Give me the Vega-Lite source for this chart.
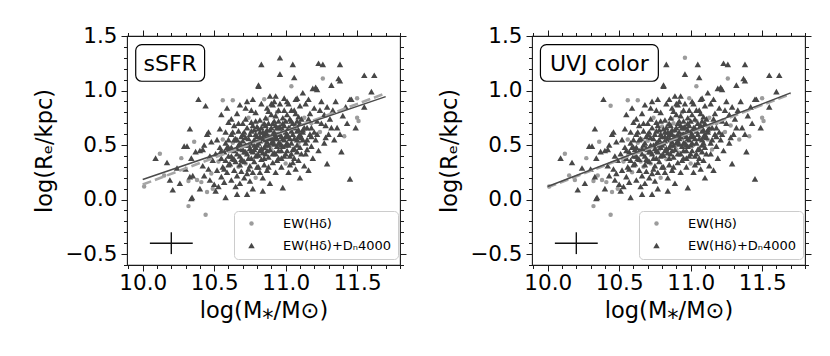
{
"$schema": "https://vega.github.io/schema/vega-lite/v6.json",
"background": "white",
"padding": {"left": 33, "top": 24, "right": 5, "bottom": 5},
"spacing": 30,
"config": {
  "font": "DejaVu Sans",
  "view": {"stroke": "#1a1a1a", "strokeWidth": 1.1},
  "axis": {"grid": false, "domain": false, "tickColor": "#1a1a1a", "tickWidth": 1, "labelColor": "#000", "titleColor": "#000", "labelFont": "DejaVu Sans", "titleFont": "DejaVu Sans", "labelFontSize": 21.5, "titleFontSize": 22.5, "titleFontWeight": "normal"},
  "legend": {"labelFont": "DejaVu Sans", "labelColor": "#000"}
},
"datasets": {
"fits": [
 {"p":"s","k":"d","x":10.0,"y":0.138},{"p":"s","k":"d","x":11.7,"y":0.975},
 {"p":"s","k":"l","x":10.0,"y":0.184},{"p":"s","k":"l","x":11.7,"y":0.944},
 {"p":"u","k":"d","x":10.0,"y":0.112},{"p":"u","k":"d","x":11.7,"y":0.968},
 {"p":"u","k":"l","x":10.0,"y":0.12},{"p":"u","k":"l","x":11.7,"y":0.978}
],
"pts": [
{"x":10.01,"y":0.12,"s":"c","u":"c"},{"x":10.09,"y":0.38,"s":"t","u":"t"},{"x":10.12,"y":0.42,"s":"c","u":"c"},{"x":10.17,"y":0.34,"s":"t","u":"t"},{"x":10.15,"y":0.22,"s":"c","u":"c"},{"x":10.19,"y":0.18,"s":"t","u":"c"},{"x":10.21,"y":0.09,"s":"t","u":"t"},
{"x":10.24,"y":0.29,"s":"t","u":"t"},{"x":10.27,"y":0.38,"s":"c","u":"c"},{"x":10.29,"y":0.49,"s":"t","u":"t"},{"x":10.31,"y":0.49,"s":"t","u":"t"},{"x":10.32,"y":-0.06,"s":"c","u":"c"},{"x":10.33,"y":0.65,"s":"t","u":"t"},{"x":10.33,"y":0.21,"s":"t","u":"t"},{"x":10.34,"y":0.01,"s":"t","u":"t"},{"x":10.345,"y":0.02,"s":"t","u":"t"},{"x":10.32,"y":0.17,"s":"c","u":"c"},{"x":10.30,"y":0.28,"s":"t","u":"t"},{"x":10.35,"y":0.22,"s":"t","u":"c"},{"x":10.26,"y":0.15,"s":"t","u":"t"},{"x":10.34,"y":0.38,"s":"t","u":"t"},{"x":10.36,"y":0.53,"s":"c","u":"c"},
{"x":10.39,"y":0.92,"s":"t","u":"t"},{"x":10.37,"y":0.44,"s":"t","u":"t"},{"x":10.38,"y":0.18,"s":"c","u":"c"},{"x":10.40,"y":0.45,"s":"t","u":"t"},{"x":10.40,"y":0.10,"s":"t","u":"t"},{"x":10.41,"y":0.16,"s":"c","u":"c"},{"x":10.42,"y":0.31,"s":"t","u":"t"},{"x":10.43,"y":0.22,"s":"t","u":"t"},{"x":10.44,"y":-0.14,"s":"c","u":"c"},{"x":10.45,"y":0.07,"s":"c","u":"c"},{"x":10.45,"y":0.60,"s":"t","u":"t"},{"x":10.46,"y":0.62,"s":"t","u":"t"},{"x":10.46,"y":0.28,"s":"t","u":"t"},{"x":10.47,"y":0.40,"s":"t","u":"t"},{"x":10.47,"y":0.18,"s":"t","u":"t"},{"x":10.48,"y":0.53,"s":"t","u":"t"},{"x":10.48,"y":0.24,"s":"c","u":"t"},{"x":10.49,"y":0.36,"s":"t","u":"t"},{"x":10.43,"y":0.50,"s":"t","u":"t"},{"x":10.44,"y":0.86,"s":"t","u":"c"},{"x":10.50,"y":0.14,"s":"t","u":"t"},{"x":10.49,"y":0.10,"s":"c","u":"c"},{"x":10.42,"y":0.46,"s":"t","u":"t"},
{"x":10.51,"y":0.42,"s":"t","u":"t"},{"x":10.52,"y":0.55,"s":"t","u":"t"},{"x":10.52,"y":0.27,"s":"t","u":"t"},{"x":10.53,"y":0.12,"s":"t","u":"t"},{"x":10.53,"y":0.35,"s":"c","u":"c"},{"x":10.54,"y":0.48,"s":"t","u":"t"},{"x":10.54,"y":0.65,"s":"t","u":"t"},{"x":10.55,"y":0.21,"s":"t","u":"t"},{"x":10.55,"y":0.38,"s":"t","u":"t"},{"x":10.56,"y":0.55,"s":"c","u":"c"},{"x":10.56,"y":0.30,"s":"t","u":"t"},{"x":10.56,"y":0.91,"s":"c","u":"c"},{"x":10.57,"y":0.44,"s":"t","u":"t"},{"x":10.57,"y":0.16,"s":"t","u":"t"},{"x":10.58,"y":0.62,"s":"t","u":"t"},{"x":10.58,"y":0.36,"s":"t","u":"t"},{"x":10.58,"y":0.02,"s":"t","u":"t"},{"x":10.59,"y":0.48,"s":"t","u":"t"},{"x":10.59,"y":0.25,"s":"t","u":"c"},{"x":10.60,"y":0.71,"s":"t","u":"t"},{"x":10.60,"y":0.40,"s":"t","u":"t"},{"x":10.60,"y":0.55,"s":"t","u":"t"},{"x":10.51,"y":0.08,"s":"t","u":"t"},{"x":10.55,"y":0.78,"s":"t","u":"t"},{"x":10.59,"y":0.84,"s":"t","u":"t"},
{"x":10.61,"y":0.33,"s":"t","u":"t"},{"x":10.61,"y":0.46,"s":"t","u":"t"},{"x":10.62,"y":0.18,"s":"t","u":"t"},{"x":10.62,"y":0.60,"s":"t","u":"t"},{"x":10.63,"y":0.91,"s":"c","u":"c"},{"x":10.63,"y":0.38,"s":"t","u":"t"},{"x":10.63,"y":0.52,"s":"c","u":"c"},{"x":10.64,"y":0.27,"s":"t","u":"t"},{"x":10.64,"y":0.68,"s":"t","u":"t"},{"x":10.64,"y":0.45,"s":"t","u":"t"},{"x":10.65,"y":0.12,"s":"t","u":"t"},{"x":10.65,"y":0.56,"s":"t","u":"t"},{"x":10.65,"y":0.35,"s":"t","u":"c"},{"x":10.66,"y":0.79,"s":"t","u":"t"},{"x":10.66,"y":0.42,"s":"t","u":"t"},{"x":10.66,"y":0.22,"s":"t","u":"t"},{"x":10.67,"y":0.63,"s":"t","u":"t"},{"x":10.67,"y":0.50,"s":"t","u":"t"},{"x":10.67,"y":0.30,"s":"c","u":"c"},{"x":10.68,"y":0.87,"s":"t","u":"t"},{"x":10.68,"y":0.40,"s":"t","u":"t"},{"x":10.68,"y":0.15,"s":"t","u":"t"},{"x":10.69,"y":0.58,"s":"t","u":"t"},{"x":10.69,"y":0.47,"s":"t","u":"t"},{"x":10.69,"y":0.26,"s":"t","u":"t"},{"x":10.70,"y":0.70,"s":"t","u":"t"},{"x":10.70,"y":0.36,"s":"t","u":"t"},{"x":10.70,"y":0.54,"s":"t","u":"c"},{"x":10.62,"y":0.74,"s":"t","u":"t"},{"x":10.66,"y":0.05,"s":"t","u":"t"},
{"x":10.71,"y":0.44,"s":"t","u":"t"},{"x":10.71,"y":0.62,"s":"t","u":"t"},{"x":10.71,"y":0.20,"s":"t","u":"t"},{"x":10.72,"y":0.84,"s":"t","u":"t"},{"x":10.72,"y":0.50,"s":"t","u":"t"},{"x":10.72,"y":0.33,"s":"c","u":"c"},{"x":10.73,"y":0.05,"s":"t","u":"t"},{"x":10.73,"y":0.66,"s":"t","u":"t"},{"x":10.73,"y":0.42,"s":"t","u":"t"},{"x":10.74,"y":0.56,"s":"t","u":"t"},{"x":10.74,"y":0.28,"s":"t","u":"t"},{"x":10.74,"y":0.75,"s":"c","u":"c"},{"x":10.75,"y":0.47,"s":"t","u":"t"},{"x":10.75,"y":0.60,"s":"t","u":"t"},{"x":10.75,"y":0.17,"s":"t","u":"t"},{"x":10.76,"y":0.38,"s":"t","u":"t"},{"x":10.76,"y":0.71,"s":"t","u":"t"},{"x":10.76,"y":0.52,"s":"c","u":"t"},{"x":10.77,"y":0.92,"s":"t","u":"t"},{"x":10.77,"y":0.44,"s":"t","u":"t"},{"x":10.77,"y":0.25,"s":"t","u":"t"},{"x":10.78,"y":0.64,"s":"t","u":"t"},{"x":10.78,"y":0.55,"s":"t","u":"t"},{"x":10.78,"y":0.35,"s":"t","u":"t"},{"x":10.79,"y":0.80,"s":"t","u":"t"},{"x":10.79,"y":0.48,"s":"t","u":"t"},{"x":10.79,"y":0.20,"s":"c","u":"c"},{"x":10.80,"y":0.58,"s":"t","u":"t"},{"x":10.80,"y":0.41,"s":"t","u":"t"},{"x":10.80,"y":0.67,"s":"t","u":"c"},{"x":10.73,"y":0.90,"s":"t","u":"t"},{"x":10.77,"y":0.10,"s":"t","u":"t"},
{"x":10.81,"y":1.05,"s":"t","u":"t"},{"x":10.81,"y":1.04,"s":"t","u":"t"},{"x":10.81,"y":0.52,"s":"t","u":"t"},{"x":10.81,"y":0.30,"s":"t","u":"t"},{"x":10.82,"y":0.73,"s":"t","u":"t"},{"x":10.82,"y":0.45,"s":"t","u":"t"},{"x":10.82,"y":0.62,"s":"t","u":"t"},{"x":10.83,"y":1.24,"s":"t","u":"t"},{"x":10.83,"y":0.88,"s":"t","u":"t"},{"x":10.83,"y":0.37,"s":"t","u":"c"},{"x":10.84,"y":0.56,"s":"t","u":"t"},{"x":10.84,"y":0.20,"s":"t","u":"t"},{"x":10.84,"y":0.68,"s":"c","u":"c"},{"x":10.85,"y":0.48,"s":"t","u":"t"},{"x":10.85,"y":0.92,"s":"c","u":"t"},{"x":10.85,"y":0.60,"s":"t","u":"t"},{"x":10.85,"y":0.32,"s":"t","u":"t"},{"x":10.86,"y":0.75,"s":"t","u":"t"},{"x":10.86,"y":0.42,"s":"t","u":"t"},{"x":10.86,"y":0.55,"s":"t","u":"t"},{"x":10.87,"y":0.84,"s":"t","u":"t"},{"x":10.87,"y":0.64,"s":"t","u":"t"},{"x":10.87,"y":0.27,"s":"t","u":"t"},{"x":10.88,"y":0.50,"s":"t","u":"t"},{"x":10.88,"y":0.70,"s":"t","u":"c"},{"x":10.88,"y":0.39,"s":"t","u":"t"},{"x":10.89,"y":0.95,"s":"t","u":"t"},{"x":10.89,"y":0.58,"s":"t","u":"t"},{"x":10.89,"y":0.15,"s":"t","u":"t"},{"x":10.90,"y":0.66,"s":"t","u":"t"},{"x":10.90,"y":0.46,"s":"c","u":"c"},{"x":10.90,"y":0.78,"s":"t","u":"t"},{"x":10.84,"y":0.08,"s":"t","u":"t"},{"x":10.87,"y":0.45,"s":"t","u":"t"},
{"x":10.91,"y":0.54,"s":"t","u":"t"},{"x":10.91,"y":0.34,"s":"t","u":"t"},{"x":10.91,"y":0.87,"s":"t","u":"t"},{"x":10.92,"y":0.62,"s":"t","u":"t"},{"x":10.92,"y":0.72,"s":"t","u":"t"},{"x":10.92,"y":0.43,"s":"t","u":"c"},{"x":10.93,"y":0.95,"s":"t","u":"t"},{"x":10.93,"y":0.58,"s":"t","u":"t"},{"x":10.93,"y":0.25,"s":"t","u":"t"},{"x":10.94,"y":0.66,"s":"t","u":"t"},{"x":10.94,"y":0.49,"s":"t","u":"t"},{"x":10.94,"y":0.80,"s":"c","u":"c"},{"x":10.95,"y":0.38,"s":"t","u":"t"},{"x":10.95,"y":0.60,"s":"t","u":"t"},{"x":10.95,"y":0.72,"s":"t","u":"t"},{"x":10.96,"y":1.30,"s":"t","u":"c"},{"x":10.96,"y":0.52,"s":"t","u":"t"},{"x":10.96,"y":0.88,"s":"t","u":"t"},{"x":10.97,"y":0.45,"s":"t","u":"t"},{"x":10.97,"y":0.65,"s":"c","u":"c"},{"x":10.97,"y":0.30,"s":"t","u":"t"},{"x":10.98,"y":0.75,"s":"t","u":"t"},{"x":10.98,"y":0.11,"s":"t","u":"t"},{"x":10.98,"y":0.56,"s":"t","u":"t"},{"x":10.99,"y":0.40,"s":"t","u":"t"},{"x":10.99,"y":0.68,"s":"t","u":"t"},{"x":10.99,"y":0.93,"s":"t","u":"c"},{"x":11.00,"y":0.50,"s":"t","u":"t"},{"x":11.00,"y":0.62,"s":"t","u":"t"},{"x":11.00,"y":0.33,"s":"c","u":"c"},{"x":10.96,"y":1.15,"s":"t","u":"t"},{"x":10.93,"y":0.42,"s":"t","u":"t"},
{"x":11.01,"y":0.78,"s":"t","u":"t"},{"x":11.01,"y":0.45,"s":"t","u":"t"},{"x":11.02,"y":0.58,"s":"t","u":"t"},{"x":11.02,"y":0.25,"s":"t","u":"t"},{"x":11.02,"y":0.88,"s":"t","u":"t"},{"x":11.03,"y":0.66,"s":"t","u":"t"},{"x":11.03,"y":0.40,"s":"t","u":"t"},{"x":11.04,"y":1.04,"s":"c","u":"c"},{"x":11.04,"y":0.52,"s":"t","u":"t"},{"x":11.04,"y":0.72,"s":"t","u":"c"},{"x":11.05,"y":1.24,"s":"t","u":"t"},{"x":11.05,"y":0.34,"s":"t","u":"t"},{"x":11.05,"y":0.60,"s":"t","u":"t"},{"x":11.06,"y":0.82,"s":"t","u":"t"},{"x":11.06,"y":0.47,"s":"t","u":"t"},{"x":11.06,"y":1.12,"s":"t","u":"t"},{"x":11.07,"y":0.56,"s":"c","u":"c"},{"x":11.07,"y":0.68,"s":"t","u":"t"},{"x":11.07,"y":0.28,"s":"t","u":"t"},{"x":11.08,"y":0.93,"s":"t","u":"t"},{"x":11.08,"y":0.44,"s":"t","u":"t"},{"x":11.08,"y":0.63,"s":"t","u":"t"},{"x":11.09,"y":0.76,"s":"t","u":"t"},{"x":11.09,"y":0.36,"s":"t","u":"t"},{"x":11.09,"y":0.52,"s":"c","u":"t"},{"x":11.10,"y":0.70,"s":"t","u":"t"},{"x":11.10,"y":0.20,"s":"t","u":"t"},{"x":11.10,"y":0.86,"s":"t","u":"t"},
{"x":11.11,"y":0.57,"s":"t","u":"t"},{"x":11.11,"y":0.42,"s":"t","u":"t"},{"x":11.12,"y":0.98,"s":"t","u":"t"},{"x":11.12,"y":0.64,"s":"t","u":"t"},{"x":11.13,"y":0.31,"s":"t","u":"t"},{"x":11.13,"y":0.75,"s":"c","u":"c"},{"x":11.14,"y":0.52,"s":"t","u":"t"},{"x":11.14,"y":0.88,"s":"t","u":"t"},{"x":11.15,"y":0.66,"s":"t","u":"t"},{"x":11.15,"y":0.46,"s":"t","u":"c"},{"x":11.16,"y":0.92,"s":"t","u":"t"},{"x":11.16,"y":0.27,"s":"t","u":"t"},{"x":11.17,"y":0.60,"s":"t","u":"t"},{"x":11.17,"y":0.79,"s":"t","u":"t"},{"x":11.18,"y":0.49,"s":"t","u":"t"},{"x":11.18,"y":0.70,"s":"c","u":"c"},{"x":11.19,"y":1.02,"s":"t","u":"t"},{"x":11.19,"y":0.38,"s":"t","u":"t"},{"x":11.20,"y":0.62,"s":"t","u":"t"},{"x":11.20,"y":0.84,"s":"t","u":"t"},
{"x":11.21,"y":1.03,"s":"t","u":"t"},{"x":11.21,"y":0.55,"s":"t","u":"t"},{"x":11.22,"y":0.72,"s":"t","u":"t"},{"x":11.22,"y":1.01,"s":"t","u":"t"},{"x":11.23,"y":1.25,"s":"t","u":"t"},{"x":11.23,"y":0.45,"s":"t","u":"t"},{"x":11.24,"y":0.82,"s":"t","u":"t"},{"x":11.24,"y":0.62,"s":"c","u":"c"},{"x":11.25,"y":0.90,"s":"t","u":"t"},{"x":11.26,"y":1.24,"s":"t","u":"t"},{"x":11.26,"y":1.11,"s":"c","u":"c"},{"x":11.27,"y":0.78,"s":"t","u":"t"},{"x":11.27,"y":0.52,"s":"t","u":"t"},{"x":11.28,"y":0.68,"s":"t","u":"c"},{"x":11.29,"y":0.33,"s":"t","u":"t"},{"x":11.29,"y":0.85,"s":"t","u":"t"},{"x":11.30,"y":0.60,"s":"t","u":"t"},
{"x":11.31,"y":0.74,"s":"t","u":"t"},{"x":11.32,"y":1.05,"s":"t","u":"t"},{"x":11.33,"y":0.82,"s":"t","u":"t"},{"x":11.34,"y":0.55,"s":"t","u":"c"},{"x":11.35,"y":0.90,"s":"t","u":"t"},{"x":11.36,"y":0.66,"s":"t","u":"t"},{"x":11.37,"y":1.11,"s":"t","u":"t"},{"x":11.38,"y":1.09,"s":"t","u":"t"},{"x":11.38,"y":1.24,"s":"t","u":"t"},{"x":11.38,"y":0.60,"s":"t","u":"t"},{"x":11.39,"y":0.44,"s":"t","u":"t"},{"x":11.40,"y":0.77,"s":"t","u":"t"},{"x":11.41,"y":0.58,"s":"c","u":"c"},{"x":11.42,"y":0.85,"s":"t","u":"t"},{"x":11.43,"y":0.70,"s":"t","u":"t"},{"x":11.45,"y":0.19,"s":"t","u":"t"},{"x":11.45,"y":0.92,"s":"t","u":"t"},
{"x":11.46,"y":0.92,"s":"t","u":"t"},{"x":11.49,"y":0.66,"s":"t","u":"t"},{"x":11.50,"y":0.75,"s":"c","u":"c"},{"x":11.51,"y":0.72,"s":"c","u":"c"},{"x":11.50,"y":0.93,"s":"c","u":"c"},{"x":11.55,"y":1.14,"s":"t","u":"t"},{"x":11.60,"y":0.99,"s":"t","u":"t"},{"x":11.62,"y":1.14,"s":"t","u":"t"},{"x":11.55,"y":0.85,"s":"t","u":"t"},
{"x":10.72,"y":0.57,"s":"t","u":"t"},{"x":10.74,"y":0.38,"s":"t","u":"t"},{"x":10.76,"y":0.63,"s":"t","u":"t"},{"x":10.78,"y":0.46,"s":"t","u":"c"},{"x":10.79,"y":0.72,"s":"t","u":"t"},{"x":10.81,"y":0.41,"s":"t","u":"t"},{"x":10.82,"y":0.54,"s":"t","u":"t"},{"x":10.83,"y":0.66,"s":"t","u":"t"},{"x":10.84,"y":0.43,"s":"t","u":"t"},{"x":10.86,"y":0.62,"s":"t","u":"t"},{"x":10.87,"y":0.53,"s":"t","u":"t"},{"x":10.88,"y":0.81,"s":"t","u":"t"},{"x":10.89,"y":0.46,"s":"t","u":"t"},{"x":10.90,"y":0.57,"s":"t","u":"t"},{"x":10.91,"y":0.70,"s":"t","u":"t"},{"x":10.92,"y":0.51,"s":"t","u":"t"},{"x":10.93,"y":0.77,"s":"t","u":"t"},{"x":10.94,"y":0.56,"s":"t","u":"c"},{"x":10.95,"y":0.45,"s":"t","u":"t"},{"x":10.96,"y":0.67,"s":"t","u":"t"},{"x":10.97,"y":0.58,"s":"t","u":"t"},{"x":10.98,"y":0.49,"s":"t","u":"t"},{"x":10.99,"y":0.82,"s":"t","u":"t"},{"x":11.00,"y":0.72,"s":"t","u":"t"},{"x":11.01,"y":0.60,"s":"t","u":"t"},{"x":11.02,"y":0.50,"s":"t","u":"c"},{"x":11.03,"y":0.74,"s":"t","u":"t"},{"x":11.04,"y":0.63,"s":"t","u":"t"},{"x":11.05,"y":0.46,"s":"t","u":"t"},{"x":11.06,"y":0.66,"s":"t","u":"t"},{"x":11.07,"y":0.79,"s":"t","u":"t"},{"x":11.08,"y":0.55,"s":"t","u":"t"},{"x":11.09,"y":0.64,"s":"t","u":"t"},{"x":11.10,"y":0.48,"s":"t","u":"t"},{"x":11.11,"y":0.74,"s":"t","u":"t"},{"x":11.12,"y":0.55,"s":"t","u":"c"},{"x":11.13,"y":0.66,"s":"t","u":"t"},{"x":11.14,"y":0.42,"s":"t","u":"t"},{"x":11.16,"y":0.74,"s":"t","u":"t"},{"x":11.18,"y":0.58,"s":"t","u":"t"},
{"x":10.62,"y":0.48,"s":"t","u":"t"},{"x":10.64,"y":0.37,"s":"t","u":"t"},{"x":10.66,"y":0.55,"s":"t","u":"c"},{"x":10.68,"y":0.32,"s":"t","u":"t"},{"x":10.70,"y":0.46,"s":"t","u":"t"},{"x":10.71,"y":0.35,"s":"t","u":"t"},{"x":10.73,"y":0.24,"s":"t","u":"t"},{"x":10.75,"y":0.31,"s":"t","u":"t"},{"x":10.77,"y":0.52,"s":"t","u":"t"},{"x":10.80,"y":0.30,"s":"t","u":"t"},{"x":10.82,"y":0.25,"s":"t","u":"t"},{"x":10.85,"y":0.38,"s":"t","u":"t"},{"x":10.88,"y":0.30,"s":"t","u":"t"},{"x":10.91,"y":0.42,"s":"t","u":"t"},{"x":10.94,"y":0.36,"s":"t","u":"t"},{"x":10.97,"y":0.38,"s":"t","u":"t"},{"x":11.00,"y":0.42,"s":"t","u":"t"},{"x":11.03,"y":0.32,"s":"t","u":"t"},{"x":11.06,"y":0.38,"s":"t","u":"t"},{"x":11.08,"y":0.72,"s":"t","u":"t"},
{"x":10.85,"y":0.70,"s":"t","u":"t"},{"x":10.87,"y":0.74,"s":"c","u":"c"},{"x":10.90,"y":0.88,"s":"t","u":"t"},{"x":10.92,"y":0.90,"s":"t","u":"t"},{"x":10.95,"y":0.82,"s":"t","u":"t"},{"x":10.98,"y":0.64,"s":"t","u":"t"},{"x":11.01,"y":0.90,"s":"t","u":"t"},{"x":11.04,"y":0.82,"s":"t","u":"t"},{"x":11.07,"y":0.92,"s":"t","u":"t"},{"x":11.10,"y":0.60,"s":"t","u":"t"},
{"x":10.55,"y":0.45,"s":"t","u":"t"},{"x":10.57,"y":0.28,"s":"t","u":"t"},{"x":10.60,"y":0.32,"s":"t","u":"t"},{"x":10.58,"y":0.52,"s":"t","u":"t"},{"x":10.63,"y":0.62,"s":"t","u":"t"},{"x":10.67,"y":0.70,"s":"t","u":"t"},{"x":10.69,"y":0.37,"s":"t","u":"t"},{"x":10.72,"y":0.74,"s":"t","u":"t"},{"x":10.76,"y":0.82,"s":"t","u":"t"},{"x":10.79,"y":0.60,"s":"t","u":"t"},
{"x":10.80,"y":0.50,"s":"t","u":"t"},{"x":10.82,"y":0.58,"s":"t","u":"t"},{"x":10.83,"y":0.47,"s":"t","u":"t"},{"x":10.84,"y":0.62,"s":"t","u":"t"},{"x":10.86,"y":0.50,"s":"t","u":"t"},{"x":10.86,"y":0.68,"s":"t","u":"t"},{"x":10.88,"y":0.56,"s":"t","u":"t"},{"x":10.89,"y":0.64,"s":"t","u":"t"},{"x":10.90,"y":0.52,"s":"t","u":"t"},{"x":10.91,"y":0.60,"s":"t","u":"t"},{"x":10.92,"y":0.56,"s":"t","u":"t"},{"x":10.93,"y":0.68,"s":"t","u":"t"},{"x":10.94,"y":0.60,"s":"t","u":"t"},{"x":10.95,"y":0.52,"s":"t","u":"t"},{"x":10.96,"y":0.60,"s":"t","u":"t"},{"x":10.97,"y":0.50,"s":"t","u":"t"},{"x":10.98,"y":0.70,"s":"t","u":"t"},{"x":10.99,"y":0.55,"s":"t","u":"t"},{"x":11.00,"y":0.58,"s":"t","u":"t"},{"x":11.01,"y":0.52,"s":"t","u":"t"},{"x":11.02,"y":0.66,"s":"t","u":"t"},{"x":11.03,"y":0.56,"s":"t","u":"t"},{"x":11.05,"y":0.70,"s":"t","u":"t"},{"x":11.06,"y":0.56,"s":"t","u":"t"},{"x":11.08,"y":0.50,"s":"t","u":"t"},{"x":10.76,"y":0.45,"s":"t","u":"t"},{"x":10.78,"y":0.50,"s":"t","u":"t"},{"x":10.74,"y":0.50,"s":"t","u":"t"},{"x":10.72,"y":0.44,"s":"t","u":"t"},{"x":10.70,"y":0.60,"s":"t","u":"t"},{"x":10.68,"y":0.52,"s":"t","u":"t"},{"x":10.66,"y":0.47,"s":"t","u":"t"},{"x":10.64,"y":0.55,"s":"t","u":"t"},{"x":10.62,"y":0.40,"s":"t","u":"t"},{"x":10.60,"y":0.48,"s":"t","u":"t"},{"x":10.85,"y":0.56,"s":"t","u":"t"},{"x":10.87,"y":0.60,"s":"t","u":"t"},{"x":10.81,"y":0.65,"s":"t","u":"t"},{"x":10.79,"y":0.40,"s":"t","u":"t"},{"x":10.77,"y":0.68,"s":"t","u":"t"},{"x":10.95,"y":0.66,"s":"t","u":"t"},{"x":11.04,"y":0.42,"s":"t","u":"t"},{"x":11.09,"y":0.58,"s":"t","u":"t"},{"x":11.12,"y":0.62,"s":"t","u":"t"},{"x":11.15,"y":0.55,"s":"t","u":"t"},{"x":11.18,"y":0.66,"s":"t","u":"t"},{"x":11.22,"y":0.60,"s":"t","u":"t"},{"x":11.25,"y":0.70,"s":"t","u":"t"},{"x":11.28,"y":0.57,"s":"t","u":"t"},{"x":11.32,"y":0.66,"s":"t","u":"t"}
]
},
"hconcat": [
{
 "width": 273, "height": 229,
 "data": {"name": "pts"},
 "resolve": {"axis": {"x": "independent", "y": "independent"}},
 "layer": [
  {
   "transform": [{"filter": "datum.s === 'c'"}],
   "mark": {"type": "point", "filled": true, "opacity": 1},
   "encoding": {
    "x": {"field": "x", "type": "quantitative", "scale": {"domain": [9.89, 11.8], "nice": false, "zero": false}, "axis": {"orient": "bottom", "values": [10, 10.5, 11, 11.5], "format": ".1f", "tickSize": 6, "labelPadding": 1, "title": "log(M⁎/M⊙)", "titlePadding": 6}},
    "y": {"field": "y", "type": "quantitative", "scale": {"domain": [-0.6, 1.5], "nice": false, "zero": false}, "axis": {"orient": "left", "values": [-0.5, 0, 0.5, 1, 1.5], "format": ".1f", "tickSize": 6, "labelPadding": 4, "title": "log(Rₑ/kpc)", "titlePadding": 8}},
    "color": {"field": "s", "type": "nominal", "scale": {"domain": ["c", "t"], "range": ["#9c9c9c", "#474747"]}, "legend": {"title": null, "orient": "none", "legendX": 107, "legendY": 175, "labelExpr": "datum.value === 'c' ? 'EW(Hδ)' : 'EW(Hδ)+Dₙ4000'", "fillColor": "rgba(255,255,255,0.85)", "strokeColor": "#cccccc", "cornerRadius": 4, "padding": 6, "labelFontSize": 13, "rowPadding": 8, "symbolOffset": 5, "labelOffset": 25, "labelLimit": 200}},
    "shape": {"field": "s", "type": "nominal", "scale": {"domain": ["c", "t"], "range": ["circle", "triangle-up"]}, "legend": {"title": null, "orient": "none", "legendX": 107, "legendY": 175, "labelExpr": "datum.value === 'c' ? 'EW(Hδ)' : 'EW(Hδ)+Dₙ4000'", "fillColor": "rgba(255,255,255,0.85)", "strokeColor": "#cccccc", "cornerRadius": 4, "padding": 6, "labelFontSize": 13, "rowPadding": 8, "symbolOffset": 5, "labelOffset": 25, "labelLimit": 200}},
    "size": {"field": "s", "type": "nominal", "scale": {"domain": ["c", "t"], "range": [20, 42]}, "legend": {"title": null, "orient": "none", "legendX": 107, "legendY": 175, "labelExpr": "datum.value === 'c' ? 'EW(Hδ)' : 'EW(Hδ)+Dₙ4000'", "fillColor": "rgba(255,255,255,0.85)", "strokeColor": "#cccccc", "cornerRadius": 4, "padding": 6, "labelFontSize": 13, "rowPadding": 8, "symbolOffset": 5, "labelOffset": 25, "labelLimit": 200}}
   }
  },
  {
   "transform": [{"filter": "datum.s === 't'"}],
   "mark": {"type": "point", "filled": true, "opacity": 1},
   "encoding": {
    "x": {"field": "x", "type": "quantitative", "scale": {"domain": [9.89, 11.8], "nice": false, "zero": false}, "axis": {"orient": "bottom", "values": [9.9, 10.1, 10.2, 10.3, 10.4, 10.6, 10.7, 10.8, 10.9, 11.1, 11.2, 11.3, 11.4, 11.6, 11.7, 11.8], "labels": false, "tickSize": 3.5, "title": null}},
    "y": {"field": "y", "type": "quantitative", "scale": {"domain": [-0.6, 1.5], "nice": false, "zero": false}, "axis": {"orient": "left", "values": [-0.6, -0.4, -0.3, -0.2, -0.1, 0.1, 0.2, 0.3, 0.4, 0.6, 0.7, 0.8, 0.9, 1.1, 1.2, 1.3, 1.4], "labels": false, "tickSize": 3.5, "title": null}},
    "color": {"field": "s", "type": "nominal", "scale": {"domain": ["c", "t"], "range": ["#9c9c9c", "#474747"]}, "legend": {"title": null, "orient": "none", "legendX": 107, "legendY": 175, "labelExpr": "datum.value === 'c' ? 'EW(Hδ)' : 'EW(Hδ)+Dₙ4000'", "fillColor": "rgba(255,255,255,0.85)", "strokeColor": "#cccccc", "cornerRadius": 4, "padding": 6, "labelFontSize": 13, "rowPadding": 8, "symbolOffset": 5, "labelOffset": 25, "labelLimit": 200}},
    "shape": {"field": "s", "type": "nominal", "scale": {"domain": ["c", "t"], "range": ["circle", "triangle-up"]}, "legend": {"title": null, "orient": "none", "legendX": 107, "legendY": 175, "labelExpr": "datum.value === 'c' ? 'EW(Hδ)' : 'EW(Hδ)+Dₙ4000'", "fillColor": "rgba(255,255,255,0.85)", "strokeColor": "#cccccc", "cornerRadius": 4, "padding": 6, "labelFontSize": 13, "rowPadding": 8, "symbolOffset": 5, "labelOffset": 25, "labelLimit": 200}},
    "size": {"field": "s", "type": "nominal", "scale": {"domain": ["c", "t"], "range": [20, 42]}, "legend": {"title": null, "orient": "none", "legendX": 107, "legendY": 175, "labelExpr": "datum.value === 'c' ? 'EW(Hδ)' : 'EW(Hδ)+Dₙ4000'", "fillColor": "rgba(255,255,255,0.85)", "strokeColor": "#cccccc", "cornerRadius": 4, "padding": 6, "labelFontSize": 13, "rowPadding": 8, "symbolOffset": 5, "labelOffset": 25, "labelLimit": 200}}
   }
  },
  {
   "data": {"name": "fits"},
   "transform": [{"filter": "datum.p === 's' && datum.k === 'd'"}],
   "mark": {"type": "line", "color": "#a6a6a6", "strokeWidth": 2.6, "strokeDash": [9, 4]},
   "encoding": {
    "x": {"field": "x", "type": "quantitative", "scale": {"domain": [9.89, 11.8], "nice": false, "zero": false}, "axis": {"orient": "top", "values": [9.9, 10.1, 10.2, 10.3, 10.4, 10.6, 10.7, 10.8, 10.9, 11.1, 11.2, 11.3, 11.4, 11.6, 11.7, 11.8], "labels": false, "tickSize": 3.5, "title": null}},
    "y": {"field": "y", "type": "quantitative", "scale": {"domain": [-0.6, 1.5], "nice": false, "zero": false}, "axis": {"orient": "right", "values": [-0.6, -0.4, -0.3, -0.2, -0.1, 0.1, 0.2, 0.3, 0.4, 0.6, 0.7, 0.8, 0.9, 1.1, 1.2, 1.3, 1.4], "labels": false, "tickSize": 3.5, "title": null}}
   }
  },
  {
   "data": {"name": "fits"},
   "transform": [{"filter": "datum.p === 's' && datum.k === 'l'"}],
   "mark": {"type": "line", "color": "#4a4a4a", "strokeWidth": 1.5},
   "encoding": {
    "x": {"field": "x", "type": "quantitative", "scale": {"domain": [9.89, 11.8], "nice": false, "zero": false}, "axis": {"orient": "top", "values": [10, 10.5, 11, 11.5], "labels": false, "tickSize": 6, "title": null}},
    "y": {"field": "y", "type": "quantitative", "scale": {"domain": [-0.6, 1.5], "nice": false, "zero": false}, "axis": {"orient": "right", "values": [-0.5, 0, 0.5, 1, 1.5], "labels": false, "tickSize": 6, "title": null}}
   }
  },
  {
   "data": {"values": [{}]},
   "mark": {"type": "rule", "color": "#111", "strokeWidth": 1.4},
   "encoding": {
    "x": {"datum": 10.05, "type": "quantitative", "scale": {"domain": [9.89, 11.8], "nice": false, "zero": false}, "axis": null},
    "x2": {"datum": 10.35},
    "y": {"datum": -0.4, "type": "quantitative", "scale": {"domain": [-0.6, 1.5], "nice": false, "zero": false}, "axis": null}
   }
  },
  {
   "data": {"values": [{}]},
   "mark": {"type": "rule", "color": "#111", "strokeWidth": 1.4},
   "encoding": {
    "x": {"datum": 10.2, "type": "quantitative", "scale": {"domain": [9.89, 11.8], "nice": false, "zero": false}, "axis": null},
    "y": {"datum": -0.5, "type": "quantitative", "scale": {"domain": [-0.6, 1.5], "nice": false, "zero": false}, "axis": null},
    "y2": {"datum": -0.3}
   }
  },
  {
   "data": {"values": [{}]},
   "mark": {"type": "rect", "fill": "white", "stroke": "#000", "strokeWidth": 1.2, "cornerRadius": 6},
   "encoding": {
    "x": {"datum": 9.951, "type": "quantitative", "scale": {"domain": [9.89, 11.8], "nice": false, "zero": false}, "axis": null},
    "x2": {"datum": 10.433},
    "y": {"datum": 1.421, "type": "quantitative", "scale": {"domain": [-0.6, 1.5], "nice": false, "zero": false}, "axis": null},
    "y2": {"datum": 1.085}
   }
  },
  {
   "data": {"values": [{"t": "sSFR"}]},
   "mark": {"type": "text", "fontSize": 22, "color": "#000", "align": "center", "baseline": "middle", "dy": 1},
   "encoding": {
    "x": {"datum": 10.192, "type": "quantitative", "scale": {"domain": [9.89, 11.8], "nice": false, "zero": false}, "axis": null},
    "y": {"datum": 1.253, "type": "quantitative", "scale": {"domain": [-0.6, 1.5], "nice": false, "zero": false}, "axis": null},
    "text": {"field": "t"}
   }
  }
 ]
},
{
 "width": 273, "height": 229,
 "data": {"name": "pts"},
 "resolve": {"axis": {"x": "independent", "y": "independent"}},
 "layer": [
  {
   "transform": [{"filter": "datum.u === 'c'"}],
   "mark": {"type": "point", "filled": true, "opacity": 1},
   "encoding": {
    "x": {"field": "x", "type": "quantitative", "scale": {"domain": [9.89, 11.8], "nice": false, "zero": false}, "axis": {"orient": "bottom", "values": [10, 10.5, 11, 11.5], "format": ".1f", "tickSize": 6, "labelPadding": 1, "title": "log(M⁎/M⊙)", "titlePadding": 6}},
    "y": {"field": "y", "type": "quantitative", "scale": {"domain": [-0.6, 1.5], "nice": false, "zero": false}, "axis": {"orient": "left", "values": [-0.5, 0, 0.5, 1, 1.5], "format": ".1f", "tickSize": 6, "labelPadding": 4, "title": "log(Rₑ/kpc)", "titlePadding": 8}},
    "color": {"field": "u", "type": "nominal", "scale": {"domain": ["c", "t"], "range": ["#9c9c9c", "#474747"]}, "legend": {"title": null, "orient": "none", "legendX": 107, "legendY": 175, "labelExpr": "datum.value === 'c' ? 'EW(Hδ)' : 'EW(Hδ)+Dₙ4000'", "fillColor": "rgba(255,255,255,0.85)", "strokeColor": "#cccccc", "cornerRadius": 4, "padding": 6, "labelFontSize": 13, "rowPadding": 8, "symbolOffset": 5, "labelOffset": 25, "labelLimit": 200}},
    "shape": {"field": "u", "type": "nominal", "scale": {"domain": ["c", "t"], "range": ["circle", "triangle-up"]}, "legend": {"title": null, "orient": "none", "legendX": 107, "legendY": 175, "labelExpr": "datum.value === 'c' ? 'EW(Hδ)' : 'EW(Hδ)+Dₙ4000'", "fillColor": "rgba(255,255,255,0.85)", "strokeColor": "#cccccc", "cornerRadius": 4, "padding": 6, "labelFontSize": 13, "rowPadding": 8, "symbolOffset": 5, "labelOffset": 25, "labelLimit": 200}},
    "size": {"field": "u", "type": "nominal", "scale": {"domain": ["c", "t"], "range": [20, 42]}, "legend": {"title": null, "orient": "none", "legendX": 107, "legendY": 175, "labelExpr": "datum.value === 'c' ? 'EW(Hδ)' : 'EW(Hδ)+Dₙ4000'", "fillColor": "rgba(255,255,255,0.85)", "strokeColor": "#cccccc", "cornerRadius": 4, "padding": 6, "labelFontSize": 13, "rowPadding": 8, "symbolOffset": 5, "labelOffset": 25, "labelLimit": 200}}
   }
  },
  {
   "transform": [{"filter": "datum.u === 't'"}],
   "mark": {"type": "point", "filled": true, "opacity": 1},
   "encoding": {
    "x": {"field": "x", "type": "quantitative", "scale": {"domain": [9.89, 11.8], "nice": false, "zero": false}, "axis": {"orient": "bottom", "values": [9.9, 10.1, 10.2, 10.3, 10.4, 10.6, 10.7, 10.8, 10.9, 11.1, 11.2, 11.3, 11.4, 11.6, 11.7, 11.8], "labels": false, "tickSize": 3.5, "title": null}},
    "y": {"field": "y", "type": "quantitative", "scale": {"domain": [-0.6, 1.5], "nice": false, "zero": false}, "axis": {"orient": "left", "values": [-0.6, -0.4, -0.3, -0.2, -0.1, 0.1, 0.2, 0.3, 0.4, 0.6, 0.7, 0.8, 0.9, 1.1, 1.2, 1.3, 1.4], "labels": false, "tickSize": 3.5, "title": null}},
    "color": {"field": "u", "type": "nominal", "scale": {"domain": ["c", "t"], "range": ["#9c9c9c", "#474747"]}, "legend": {"title": null, "orient": "none", "legendX": 107, "legendY": 175, "labelExpr": "datum.value === 'c' ? 'EW(Hδ)' : 'EW(Hδ)+Dₙ4000'", "fillColor": "rgba(255,255,255,0.85)", "strokeColor": "#cccccc", "cornerRadius": 4, "padding": 6, "labelFontSize": 13, "rowPadding": 8, "symbolOffset": 5, "labelOffset": 25, "labelLimit": 200}},
    "shape": {"field": "u", "type": "nominal", "scale": {"domain": ["c", "t"], "range": ["circle", "triangle-up"]}, "legend": {"title": null, "orient": "none", "legendX": 107, "legendY": 175, "labelExpr": "datum.value === 'c' ? 'EW(Hδ)' : 'EW(Hδ)+Dₙ4000'", "fillColor": "rgba(255,255,255,0.85)", "strokeColor": "#cccccc", "cornerRadius": 4, "padding": 6, "labelFontSize": 13, "rowPadding": 8, "symbolOffset": 5, "labelOffset": 25, "labelLimit": 200}},
    "size": {"field": "u", "type": "nominal", "scale": {"domain": ["c", "t"], "range": [20, 42]}, "legend": {"title": null, "orient": "none", "legendX": 107, "legendY": 175, "labelExpr": "datum.value === 'c' ? 'EW(Hδ)' : 'EW(Hδ)+Dₙ4000'", "fillColor": "rgba(255,255,255,0.85)", "strokeColor": "#cccccc", "cornerRadius": 4, "padding": 6, "labelFontSize": 13, "rowPadding": 8, "symbolOffset": 5, "labelOffset": 25, "labelLimit": 200}}
   }
  },
  {
   "data": {"name": "fits"},
   "transform": [{"filter": "datum.p === 'u' && datum.k === 'd'"}],
   "mark": {"type": "line", "color": "#a6a6a6", "strokeWidth": 2.6, "strokeDash": [9, 4]},
   "encoding": {
    "x": {"field": "x", "type": "quantitative", "scale": {"domain": [9.89, 11.8], "nice": false, "zero": false}, "axis": {"orient": "top", "values": [9.9, 10.1, 10.2, 10.3, 10.4, 10.6, 10.7, 10.8, 10.9, 11.1, 11.2, 11.3, 11.4, 11.6, 11.7, 11.8], "labels": false, "tickSize": 3.5, "title": null}},
    "y": {"field": "y", "type": "quantitative", "scale": {"domain": [-0.6, 1.5], "nice": false, "zero": false}, "axis": {"orient": "right", "values": [-0.6, -0.4, -0.3, -0.2, -0.1, 0.1, 0.2, 0.3, 0.4, 0.6, 0.7, 0.8, 0.9, 1.1, 1.2, 1.3, 1.4], "labels": false, "tickSize": 3.5, "title": null}}
   }
  },
  {
   "data": {"name": "fits"},
   "transform": [{"filter": "datum.p === 'u' && datum.k === 'l'"}],
   "mark": {"type": "line", "color": "#4a4a4a", "strokeWidth": 1.5},
   "encoding": {
    "x": {"field": "x", "type": "quantitative", "scale": {"domain": [9.89, 11.8], "nice": false, "zero": false}, "axis": {"orient": "top", "values": [10, 10.5, 11, 11.5], "labels": false, "tickSize": 6, "title": null}},
    "y": {"field": "y", "type": "quantitative", "scale": {"domain": [-0.6, 1.5], "nice": false, "zero": false}, "axis": {"orient": "right", "values": [-0.5, 0, 0.5, 1, 1.5], "labels": false, "tickSize": 6, "title": null}}
   }
  },
  {
   "data": {"values": [{}]},
   "mark": {"type": "rule", "color": "#111", "strokeWidth": 1.4},
   "encoding": {
    "x": {"datum": 10.05, "type": "quantitative", "scale": {"domain": [9.89, 11.8], "nice": false, "zero": false}, "axis": null},
    "x2": {"datum": 10.35},
    "y": {"datum": -0.4, "type": "quantitative", "scale": {"domain": [-0.6, 1.5], "nice": false, "zero": false}, "axis": null}
   }
  },
  {
   "data": {"values": [{}]},
   "mark": {"type": "rule", "color": "#111", "strokeWidth": 1.4},
   "encoding": {
    "x": {"datum": 10.2, "type": "quantitative", "scale": {"domain": [9.89, 11.8], "nice": false, "zero": false}, "axis": null},
    "y": {"datum": -0.5, "type": "quantitative", "scale": {"domain": [-0.6, 1.5], "nice": false, "zero": false}, "axis": null},
    "y2": {"datum": -0.3}
   }
  },
  {
   "data": {"values": [{}]},
   "mark": {"type": "rect", "fill": "white", "stroke": "#000", "strokeWidth": 1.2, "cornerRadius": 6},
   "encoding": {
    "x": {"datum": 9.949, "type": "quantitative", "scale": {"domain": [9.89, 11.8], "nice": false, "zero": false}, "axis": null},
    "x2": {"datum": 10.774},
    "y": {"datum": 1.421, "type": "quantitative", "scale": {"domain": [-0.6, 1.5], "nice": false, "zero": false}, "axis": null},
    "y2": {"datum": 1.085}
   }
  },
  {
   "data": {"values": [{"t": "UVJ color"}]},
   "mark": {"type": "text", "fontSize": 22, "color": "#000", "align": "center", "baseline": "middle", "dy": 1},
   "encoding": {
    "x": {"datum": 10.361, "type": "quantitative", "scale": {"domain": [9.89, 11.8], "nice": false, "zero": false}, "axis": null},
    "y": {"datum": 1.253, "type": "quantitative", "scale": {"domain": [-0.6, 1.5], "nice": false, "zero": false}, "axis": null},
    "text": {"field": "t"}
   }
  }
 ]
}
],
"resolve": {"scale": {"color": "independent", "shape": "independent", "size": "independent"}, "legend": {"color": "independent", "shape": "independent", "size": "independent"}}
}
